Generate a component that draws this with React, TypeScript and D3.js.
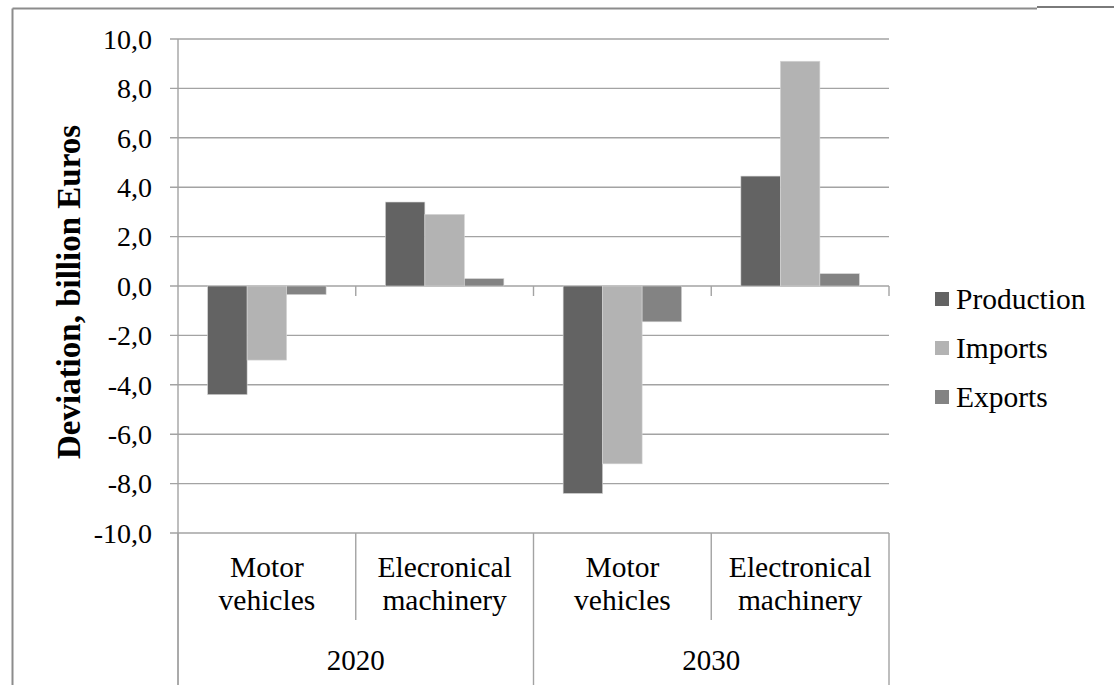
import React from "react";
import * as d3 from "d3";

const categories = ["2020|Motor vehicles", "2020|Electronic", "2030|Motor vehicles", "2030|Electronic"];
const categoryLines = [["Motor", "vehicles"], ["Elecronical", "machinery"], ["Motor", "vehicles"], ["Electronical", "machinery"]];
const years = ["2020", "2030"];
const seriesNames = ["Production", "Imports", "Exports"];
const seriesColors = ["#636363", "#b3b3b3", "#838383"];
const production = [-4.4, 3.4, -8.4, 4.45];
const imports = [-3.0, 2.9, -7.2, 9.1];
const exportsV = [-0.35, 0.3, -1.45, 0.5];
const seriesValues = [production, imports, exportsV];
const yTicks = [-10, -8, -6, -4, -2, 0, 2, 4, 6, 8, 10];

const W = 1114, H = 685;
const plotL = 178, plotR = 889, plotT = 39, plotB = 533;
const FONT = "Liberation Serif";
const GRID = "#a3a3a3";

export default function App() {
  const x = d3.scaleBand<string>().domain(categories).range([plotL, plotR]).padding(0);
  const inner = d3.scaleBand<string>().domain(seriesNames).range([0, x.bandwidth()]).paddingInner(0).paddingOuter(0.75);
  const y = d3.scaleLinear().domain([-10, 10]).range([plotB, plotT]);
  const fmt = (v: number) => d3.format(".1f")(v).replace(".", ",").replace("−", "-");
  const y0 = y(0);
  const bounds = [...categories.map((c) => x(c)!), plotR];

  return (
    <svg width={W} height={H} style={{ position: "absolute", left: 0, top: 0, background: "#fff" }} fontFamily={FONT}>
      <rect x={0} y={0} width={W} height={H} fill="#fff" />
      {/* outer frame */}
      <line x1={12.5} y1={8.5} x2={12.5} y2={H} stroke="#8c8c8c" strokeWidth={2} />
      <line x1={12.5} y1={8.5} x2={1037} y2={8.5} stroke="#8c8c8c" strokeWidth={2} />
      <line x1={1037} y1={7} x2={W} y2={7} stroke="#7a7a7a" strokeWidth={2} />

      {/* gridlines + y ticks */}
      {yTicks.map((t) => (
        <g key={t}>
          <line x1={170} x2={plotR} y1={y(t)} y2={y(t)} stroke={GRID} strokeWidth={1.4} />
          <text x={152} y={y(t)} dy="0.35em" textAnchor="end" fontFamily={FONT} fontSize={28} fill="#000">{fmt(t)}</text>
        </g>
      ))}
      {/* y axis line, extended down through category axis */}
      <line x1={plotL} x2={plotL} y1={plotT} y2={H} stroke={GRID} strokeWidth={1.4} />

      {/* bars */}
      {seriesNames.map((s, si) =>
        categories.map((c, ci) => {
          const v = seriesValues[si][ci];
          const bx = x(c)! + inner(s)!;
          const top = Math.min(y(v), y0);
          const h = Math.abs(y(v) - y0);
          return (
            <rect key={s + c} x={bx} y={top} width={inner.bandwidth()} height={h} fill={seriesColors[si]} stroke="#d6d6d6" strokeWidth={0.6} />
          );
        })
      )}

      {/* zero axis tick marks */}
      {bounds.slice(1).map((b, i) => (
        <line key={"zt" + i} x1={b} x2={b} y1={y0} y2={y0 + 10} stroke={GRID} strokeWidth={1.4} />
      ))}

      {/* category separators */}
      {bounds.map((b, i) => (
        <line key={"sep" + i} x1={b} x2={b} y1={plotB} y2={i % 2 === 0 ? H : 620} stroke={GRID} strokeWidth={1.4} />
      ))}

      {/* category labels */}
      {categories.map((c, i) => {
        const cx = x(c)! + x.bandwidth() / 2;
        return (
          <g key={"cl" + i}>
            <text x={cx} y={577} textAnchor="middle" fontFamily={FONT} fontSize={29.5} fill="#000">{categoryLines[i][0]}</text>
            <text x={cx} y={610} textAnchor="middle" fontFamily={FONT} fontSize={29.5} fill="#000">{categoryLines[i][1]}</text>
          </g>
        );
      })}
      {years.map((yr, i) => (
        <text key={yr} x={(bounds[i * 2] + bounds[i * 2 + 2]) / 2} y={670} textAnchor="middle" fontFamily={FONT} fontSize={29} fill="#000">{yr}</text>
      ))}

      {/* y axis title */}
      <text transform={`translate(80, 292) rotate(-90)`} textAnchor="middle" fontFamily={FONT} fontSize={33} fontWeight="bold" fill="#000">
        Deviation, billion Euros
      </text>

      {/* legend */}
      {seriesNames.map((s, i) => (
        <g key={"lg" + s} transform={`translate(935, ${299 + i * 49})`}>
          <rect x={0} y={-7} width={14} height={14} fill={seriesColors[i]} />
          <text x={21} y={0} dy="0.35em" fontFamily={FONT} fontSize={29.5} fill="#000">{s}</text>
        </g>
      ))}
    </svg>
  );
}
